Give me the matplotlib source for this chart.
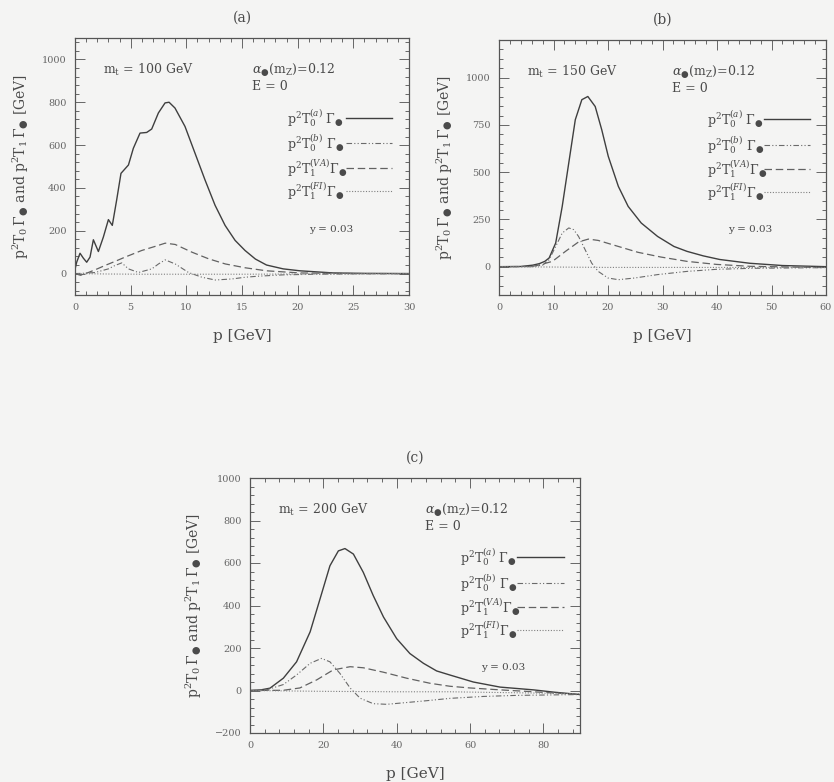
import matplotlib
matplotlib.use("Agg")
import matplotlib.pyplot as plt
from matplotlib.ticker import MultipleLocator, AutoMinorLocator

plt.rcParams['font.family'] = ['DejaVu Serif', 'DejaVu Sans']
plt.rcParams['mathtext.fontset'] = 'dejavuserif'

INK = '#4a4a4a'
BG = '#f4f4f3'

# ---- panel (a): m_t = 100 GeV ----
a_sol_p = [0, 0.15, 0.45, 0.75, 1.05, 1.35, 1.65, 2.1, 2.55, 3.0, 3.35, 3.74, 4.13, 4.8,
           5.24, 5.84, 6.44, 6.89, 7.49, 8.09, 8.45, 8.98, 9.88, 10.78, 11.68, 12.58,
           13.48, 14.38, 15.27, 16.2, 17.2, 18.7, 20.2, 23.2, 26, 30]
a_sol_v = [20, 53, 95, 72, 53, 77, 158, 103, 171, 252, 225, 343, 468, 507,
           585, 656, 659, 675, 750, 797, 800, 773, 687, 562, 437, 319,
           225, 155, 108, 68, 40, 22, 13, 3, 1, 0]
a_bb_p = [0, 1, 1.8, 3.0, 3.6, 4.2, 4.8, 5.7, 6.9, 7.5, 8.1, 9.0, 10.2, 11.4, 12.6,
          14.1, 15.3, 16.5, 18.7, 21.7, 26, 30]
a_bb_v = [0, 2, 5, 22, 38, 50, 22, 5, 22, 45, 64, 45, 5, -17, -30,
          -25, -17, -12, -6, -3, -1, 0]
a_va_p = [0, 0.5, 1.2, 2.0, 2.7, 3.6, 4.5, 6.0, 7.2, 8.1, 9.0, 10.5, 12.0, 13.5,
          15.3, 17.2, 20.2, 25, 30]
a_va_v = [0, -8, 5, 22, 38, 57, 77, 108, 127, 142, 136, 100, 69, 45,
          27, 13, 3, 0, 0]
a_fi_p = [0, 3, 6, 10, 15, 20, 25, 30]
a_fi_v = [0, -2, -3, -3, -3, -2, -1, 0]

# ---- panel (b): m_t = 150 GeV ----
b_sol_p = [0, 4, 6.2, 7.4, 8.4, 9.2, 10.4, 11.6, 12.8, 14.0, 15.2, 16.3, 17.65, 18.85,
           20.05, 21.9, 23.7, 26.1, 29.1, 32.1, 34.5, 37.5, 40.5, 46, 52, 60]
b_sol_v = [0, 1, 8, 16, 28, 46, 125, 319, 549, 778, 884, 901, 848, 725,
           584, 425, 319, 231, 160, 107, 81, 57, 38, 18, 6, 0]
b_bb_p = [0, 6, 8, 9.2, 10.4, 11.6, 12.8, 13.7, 14.6, 15.8, 17.0, 18.2, 20.0, 21.9,
          24.9, 29.1, 34.5, 39.9, 46, 60]
b_bb_v = [0, 0, 8, 37, 107, 178, 205, 196, 160, 90, 19, -25, -60, -69,
          -60, -42, -25, -14, -9, -5]
b_va_p = [0, 6, 7.4, 9.8, 12.2, 14.6, 16.4, 18.2, 21.9, 25.5, 29.7, 34.5, 39.9, 46, 60]
b_va_v = [0, 1, 9, 28, 81, 131, 146, 139, 107, 76, 51, 28, 12, 2, -5]
b_fi_p = [0, 10, 20, 30, 40, 50, 60]
b_fi_v = [0, -2, -4, -4, -4, -4, -4]

# ---- panel (c): m_t = 200 GeV ----
c_sol_p = [0, 3, 5.45, 9.1, 12.7, 16.4, 19.1, 21.8, 24.1, 25.9, 28.2, 30.9, 33.6, 36.4,
           40.0, 43.6, 47.3, 50.9, 54.5, 60.9, 68.2, 77.3, 83, 90]
c_sol_v = [0, 3, 11, 58, 135, 276, 431, 587, 657, 668, 642, 556, 447, 346,
           244, 174, 128, 92, 73, 40, 16, 3, -8, -19]
c_bb_p = [0, 4.5, 9.1, 12.7, 16.4, 19.5, 21.8, 24.5, 27.3, 30.0, 33.6, 37.3, 41.8, 48.2,
          54.5, 63.6, 72.7, 90]
c_bb_v = [0, 3, 28, 73, 128, 151, 135, 81, 12, -36, -62, -65, -58, -48,
          -37, -28, -23, -19]
c_va_p = [0, 9.1, 13.6, 18.2, 22.7, 27.3, 30.9, 36.4, 42.7, 49.1, 54.5, 60, 68.2, 77.3, 90]
c_va_v = [0, 1, 12, 50, 97, 112, 107, 86, 58, 34, 20, 12, 3, -6, -19]
c_fi_p = [0, 10, 20, 30, 40, 54.5, 70, 90]
c_fi_v = [0, -2, -4, -5, -6, -6, -10, -15]

legend_labels = [r'$\mathrm{p}^2\mathrm{T}_0^{(a)}\ \Gamma_{●}$',
                 r'$\mathrm{p}^2\mathrm{T}_0^{(b)}\ \Gamma_{●}$',
                 r'$\mathrm{p}^2\mathrm{T}_1^{(VA)}\Gamma_{●}$',
                 r'$\mathrm{p}^2\mathrm{T}_1^{(FI)}\Gamma_{●}$']
styles = [dict(ls='-', lw=1.0, color='#3f3f3f'),
          dict(ls=(0, (5, 2, 1, 2, 1, 2)), lw=0.8, color='#6a6a6a'),
          dict(ls=(0, (6, 3)), lw=0.9, color='#626262'),
          dict(ls=(0, (1, 1.5)), lw=0.8, color='#808080')]

ylab = r'$\mathrm{p}^2\mathrm{T}_0\,\Gamma_{●}$ and $\mathrm{p}^2\mathrm{T}_1\,\Gamma_{●}$ [GeV]'

fig = plt.figure(figsize=(8.34, 7.82), dpi=100, facecolor=BG)
W, H = 834, 782


def make_axes(left, top, right, bottom):
    return fig.add_axes([left / W, 1 - bottom / H, (right - left) / W, (bottom - top) / H])


def draw_panel(ax, curves, xlim, ylim, xmaj, ymaj, mt, tag):
    ax.set_facecolor(BG)
    for (p, v), st in zip(curves, styles):
        ax.plot(p, v, **st)
    ax.set_xlim(*xlim)
    ax.set_ylim(*ylim)
    ax.xaxis.set_major_locator(MultipleLocator(xmaj))
    ax.yaxis.set_major_locator(MultipleLocator(ymaj))
    ax.xaxis.set_minor_locator(AutoMinorLocator(5))
    ax.yaxis.set_minor_locator(AutoMinorLocator(5))
    ax.tick_params(which='both', direction='in', top=True, right=True, colors='#666666',
                   labelsize=7, width=0.7)
    ax.tick_params(which='major', length=7, pad=6)
    ax.tick_params(which='minor', length=3)
    for s in ax.spines.values():
        s.set_color('#555555')
        s.set_linewidth(0.9)
    ax.set_xlabel('p [GeV]', fontsize=11, color=INK, labelpad=12)
    ax.set_ylabel(ylab, fontsize=10, color=INK, labelpad=8)
    ax.set_title(tag, fontsize=10, color=INK, pad=12)
    tk = dict(transform=ax.transAxes, fontsize=9, color=INK, va='center')
    ax.text(0.085, 0.875, r'$\mathrm{m_t}$ = ' + mt + ' GeV', **tk)
    ax.text(0.53, 0.875, r'$\alpha_{●}(\mathrm{m_Z})$=0.12', **tk)
    ax.text(0.53, 0.81, 'E = 0', **tk)
    rows = [0.69, 0.59, 0.495, 0.405]
    for lab, st, yy in zip(legend_labels, styles, rows):
        ax.text(0.635, yy, lab, transform=ax.transAxes, fontsize=9, color=INK, va='center')
        ax.plot([0.81, 0.95], [yy, yy], transform=ax.transAxes, **st)
    ax.text(0.70, 0.255, 'y = 0.03', transform=ax.transAxes, fontsize=7.5, color=INK,
            va='center')


ax_a = make_axes(75, 38, 409, 295)
draw_panel(ax_a, [(a_sol_p, a_sol_v), (a_bb_p, a_bb_v), (a_va_p, a_va_v), (a_fi_p, a_fi_v)],
           (0, 30), (-100, 1100), 5, 200, '100', '(a)')

ax_b = make_axes(499, 40, 826, 295)
draw_panel(ax_b, [(b_sol_p, b_sol_v), (b_bb_p, b_bb_v), (b_va_p, b_va_v), (b_fi_p, b_fi_v)],
           (0, 60), (-150, 1200), 10, 250, '150', '(b)')

ax_c = make_axes(250, 478, 580, 733)
draw_panel(ax_c, [(c_sol_p, c_sol_v), (c_bb_p, c_bb_v), (c_va_p, c_va_v), (c_fi_p, c_fi_v)],
           (0, 90), (-200, 1000), 20, 200, '200', '(c)')

fig.savefig('out.png', dpi=100, facecolor=BG)
